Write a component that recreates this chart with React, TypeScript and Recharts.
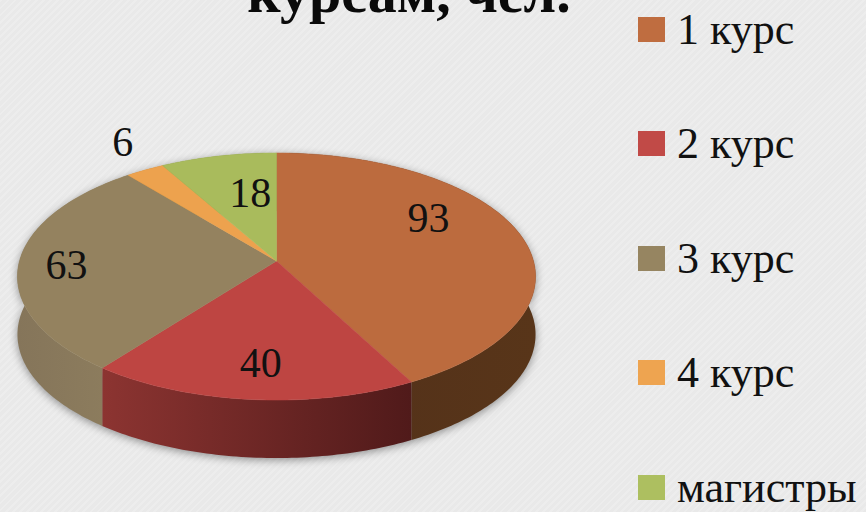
import React from "react";
import { PieChart, Pie, Legend } from "recharts";

const categories = ["1 курс", "2 курс", "3 курс", "4 курс", "магистры"];
const students = [93, 40, 63, 6, 18];
const topColors = ["#BC6B3E", "#BE4542", "#94825F", "#EDA24E", "#A9BB5C"];
const wallColors = ["url(#wall0)", "url(#wall1)", "url(#wall2)", "#B97A35", "#7F8C42"];
const legendColors = ["#BF6D40", "#C14A47", "#968561", "#EEA450", "#ADBF60"];
const titleText = "курсам, чел.";

const rows = categories.map((name, i) => ({ name, value: students[i], fill: topColors[i], wall: wallColors[i] }));

// layout / perspective constants
const CX = 276.5;
const CY = 261;
const RX = 257;
const RY = 121.6;
const K = 0.1255;
const DEPTH = 58;
const labelNudges = [
  [-19, -23],
  [1, 9],
  [-30, 3],
  [-59, -53],
  [16, 8],
];

// Project a pie angle (library degrees, counter-clockwise from +x) to the tilted disc.
function project(cx: number, cy: number, deg: number, f = 1): [number, number] {
  const a = ((90 - deg) * Math.PI) / 180;
  const u = f * Math.sin(a);
  const v = -f * Math.cos(a);
  const d = 1 - K * v;
  return [cx + (RX * u) / d, cy + (RY * v) / d];
}

function arc(cx: number, cy: number, start: number, end: number): [number, number][] {
  const n = Math.max(2, Math.ceil(Math.abs(end - start)));
  const pts: [number, number][] = [];
  for (let i = 0; i <= n; i++) pts.push(project(cx, cy, start + ((end - start) * i) / n));
  return pts;
}

const toPath = (pts: [number, number][]) =>
  "M" + pts.map((p) => `${p[0].toFixed(2)},${p[1].toFixed(2)}`).join("L") + "Z";

function TopSlice(props: any) {
  const { cx, cy, startAngle, endAngle, fill } = props;
  return <path d={toPath([[cx, cy], ...arc(cx, cy, startAngle, endAngle)])} fill={fill} stroke={fill} strokeWidth={0.5} />;
}

function WallSlice(props: any) {
  const { cx, cy, startAngle, endAngle, payload } = props;
  const upper = arc(cx, cy, startAngle, endAngle);
  const lower = upper.map((p) => [p[0], p[1] + DEPTH] as [number, number]).reverse();
  return <path d={toPath([...upper, ...lower])} fill={payload.wall} />;
}

function SliceLabel(props: any) {
  const { cx, cy, midAngle, index, value } = props;
  const [x, y] = project(cx, cy, midAngle, 0.7);
  const [dx, dy] = labelNudges[index];
  return (
    <text x={x + dx} y={y + dy} textAnchor="middle" dominantBaseline="central" fontFamily="'Liberation Serif', serif" fontSize={42} fill="#111">
      {value}
    </text>
  );
}

function LegendBox(props: any) {
  const seen = new Set<string>();
  const payload = (props.payload || []).filter((e: any) => {
    if (seen.has(e.value)) return false;
    seen.add(e.value);
    return true;
  });
  return (
    <div style={{ position: "absolute", left: 638, top: 0, fontFamily: "'Liberation Serif', serif", fontSize: 44, color: "#111" }}>
      {payload.map((entry: any, i: number) => (
        <div key={entry.value} style={{ position: "absolute", left: 0, top: i * 114.5 - 1, height: 60, whiteSpace: "nowrap", display: "flex", alignItems: "center" }}>
          <span style={{ display: "inline-block", width: 27, height: 25, marginRight: 12, background: legendColors[i] }} />
          {entry.value}
        </div>
      ))}
    </div>
  );
}

export default function App() {
  return (
    <div
      style={{
        position: "fixed",
        left: 0,
        top: 0,
        width: 866,
        height: 512,
        overflow: "hidden",
        background: "repeating-linear-gradient(135deg, #EDEDED 0px, #EDEDED 2px, #E9E9E9 2px, #E9E9E9 5px)",
      }}
    >
      <style>{`.wall-pie{filter:drop-shadow(0 2px 4px rgba(0,0,0,.4));}`}</style>
      <PieChart width={866} height={512} margin={{ top: 0, right: 0, bottom: 0, left: 0 }}>
        <defs>
          <linearGradient id="wall0" x1="0" y1="0" x2="1" y2="0">
            <stop offset="0" stopColor="#52301A" />
            <stop offset="1" stopColor="#583519" />
          </linearGradient>
          <linearGradient id="wall1" x1="0" y1="0" x2="1" y2="0">
            <stop offset="0" stopColor="#8C3431" />
            <stop offset="1" stopColor="#501A1A" />
          </linearGradient>
          <linearGradient id="wall2" x1="0" y1="0" x2="1" y2="0">
            <stop offset="0" stopColor="#85755A" />
            <stop offset="1" stopColor="#8E7E5E" />
          </linearGradient>
        </defs>
        <text x={409} y={12} textAnchor="middle" fontFamily="'Liberation Serif', serif" fontWeight="bold" fontSize={58} fill="#0A0A0A">
          {titleText}
        </text>
        <Pie
          data={rows}
          dataKey="value"
          nameKey="name"
          cx={CX}
          cy={CY}
          outerRadius={RX}
          startAngle={90}
          endAngle={-270}
          paddingAngle={0}
          stroke="none"
          legendType="none"
          className="wall-pie"
          isAnimationActive={false}
          shape={WallSlice}
        />
        <Pie
          data={rows}
          dataKey="value"
          nameKey="name"
          cx={CX}
          cy={CY}
          outerRadius={RX}
          startAngle={90}
          endAngle={-270}
          paddingAngle={0}
          stroke="none"
          labelLine={false}
          label={SliceLabel}
          isAnimationActive={false}
          shape={TopSlice}
        />
        <Legend content={LegendBox} wrapperStyle={{ position: "absolute", left: 0, top: 0, width: 0, height: 0 }} />
      </PieChart>
    </div>
  );
}
